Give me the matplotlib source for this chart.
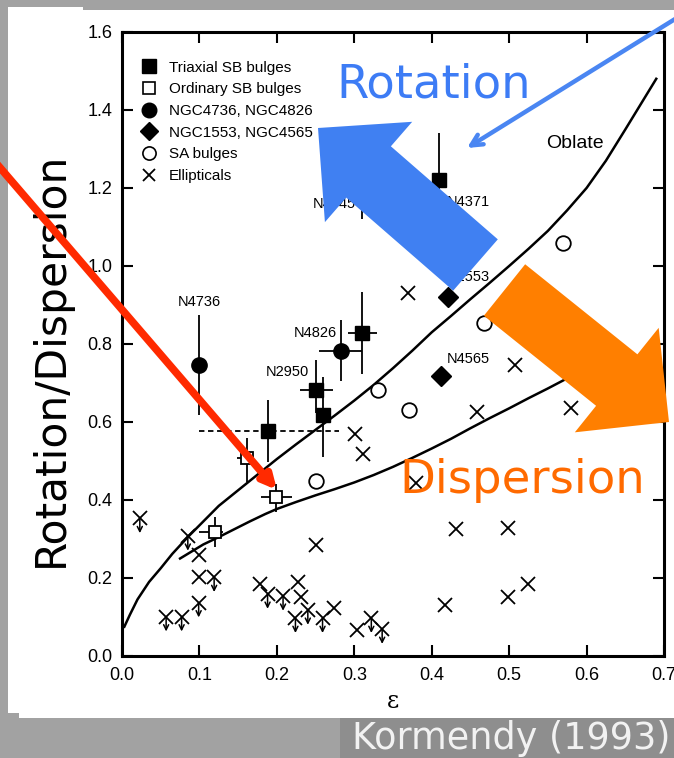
import matplotlib
matplotlib.use('Agg')
import matplotlib.pyplot as plt
from matplotlib.lines import Line2D
from matplotlib.patches import Rectangle, Polygon, FancyArrowPatch
import numpy as np

W, H = 674, 758

# ---------------- data ----------------
# Triaxial SB bulges (filled squares)
tri_x = [0.41, 0.31, 0.31, 0.25, 0.259, 0.189]
tri_y = [1.22, 1.18, 0.828, 0.682, 0.618, 0.577]
tri_ylo = [0.05, 0.06, 0.105, 0.06, 0.108, 0.08]
tri_yhi = [0.12, 0.05, 0.105, 0.077, 0.097, 0.08]
tri_xlo = [0.0, 0.0, 0.018, 0.02, 0.0, 0.0]
tri_xhi = [0.0, 0.0, 0.019, 0.022, 0.0, 0.0]
# dashed epsilon range of the eps=0.19 bulge
dash_x = [0.189]
dash_y = [0.577]
dash_xlo = [0.089]
dash_xhi = [0.091]

# Ordinary SB bulges (open squares)
osb_x = [0.120, 0.161, 0.199]
osb_y = [0.318, 0.508, 0.408]
osb_ylo = [0.038, 0.062, 0.038]
osb_yhi = [0.038, 0.052, 0.032]
osb_xlo = [0.02, 0.013, 0.019]
osb_xhi = [0.01, 0.008, 0.021]

# NGC4736, NGC4826 (filled circles)
ngc_c_x = [0.100, 0.283]
ngc_c_y = [0.746, 0.782]
ngc_c_ylo = [0.128, 0.077]
ngc_c_yhi = [0.128, 0.080]
ngc_c_xlo = [0.0, 0.029]
ngc_c_xhi = [0.0, 0.027]

# NGC1553, NGC4565 (filled diamonds)
ngc_d_x = [0.421, 0.412]
ngc_d_y = [0.921, 0.718]

# SA bulges (open circles)
sa_x = [0.570, 0.468, 0.331, 0.371, 0.250]
sa_y = [1.058, 0.853, 0.682, 0.631, 0.449]

# Ellipticals (crosses)
ell_x = [0.369, 0.508, 0.458, 0.301, 0.311, 0.380, 0.580, 0.431, 0.499, 0.524,
         0.498, 0.417, 0.304, 0.099, 0.099, 0.250, 0.178, 0.227, 0.231, 0.274]
ell_y = [0.931, 0.747, 0.626, 0.569, 0.518, 0.443, 0.636, 0.325, 0.328, 0.185,
         0.152, 0.131, 0.067, 0.259, 0.203, 0.285, 0.185, 0.191, 0.152, 0.122]
# Ellipticals, upper limits
ellu_x = [0.023, 0.085, 0.119, 0.099, 0.057, 0.077, 0.188, 0.208, 0.240, 0.224,
          0.259, 0.322, 0.336]
ellu_y = [0.353, 0.308, 0.202, 0.137, 0.101, 0.101, 0.159, 0.154, 0.118, 0.097,
          0.097, 0.097, 0.069]
lim_len = 0.038

# Oblate isotropic rotator line
obl_eps = [0.003, 0.01, 0.02, 0.035, 0.05, 0.065, 0.085, 0.105, 0.125, 0.15,
           0.175, 0.2, 0.225, 0.25, 0.275, 0.3, 0.325, 0.35, 0.375, 0.4,
           0.425, 0.45, 0.475, 0.5, 0.525, 0.55, 0.575, 0.6, 0.625, 0.65,
           0.67, 0.69]
obl_v = [0.075, 0.105, 0.145, 0.19, 0.225, 0.262, 0.305, 0.345, 0.385, 0.425,
         0.465, 0.505, 0.543, 0.58, 0.617, 0.655, 0.695, 0.738, 0.783, 0.83,
         0.872, 0.915, 0.957, 1.0, 1.044, 1.09, 1.143, 1.2, 1.27, 1.35,
         1.415, 1.48]
# lower model line
low_eps = [0.075, 0.09, 0.105, 0.126, 0.145, 0.165, 0.185, 0.2, 0.225, 0.25,
           0.275, 0.3, 0.325, 0.35, 0.375, 0.4, 0.425, 0.45, 0.475, 0.5,
           0.525, 0.55, 0.575, 0.6, 0.62]
low_v = [0.25, 0.268, 0.286, 0.306, 0.325, 0.345, 0.364, 0.377, 0.395, 0.412,
         0.428, 0.445, 0.464, 0.485, 0.508, 0.532, 0.557, 0.584, 0.61, 0.635,
         0.661, 0.686, 0.712, 0.74, 0.765]

# point labels
lab_text = ['N4736', 'N4826', 'N2950', 'N4371', 'N4945', 'N1553', 'N4565']
lab_x = [0.100, 0.278, 0.242, 0.420, 0.247, 0.475, 0.420]
lab_y = [0.908, 0.828, 0.728, 1.164, 1.160, 0.972, 0.762]
lab_ha = ['center', 'right', 'right', 'left', 'left', 'right', 'left']

legend_labels = ['Triaxial SB bulges', 'Ordinary SB bulges', 'NGC4736, NGC4826',
                 'NGC1553, NGC4565', 'SA bulges', 'Ellipticals']

xticks = [0.0, 0.1, 0.2, 0.3, 0.4, 0.5, 0.6, 0.7]
yticks = [0.0, 0.2, 0.4, 0.6, 0.8, 1.0, 1.2, 1.4, 1.6]

# ---------------- figure ----------------
fig = plt.figure(figsize=(W / 100, H / 100), dpi=100)
fig.patch.set_facecolor('#a2a2a2')


def fx(px):
    return px / W


def fy(py):
    return 1 - py / H


def frect(x0, y0, x1, y1, color, z):
    fig.add_artist(Rectangle((fx(x0), fy(y1)), fx(x1) - fx(x0), fy(y0) - fy(y1),
                             transform=fig.transFigure, facecolor=color,
                             edgecolor='none', zorder=z))


frect(340, 718, 674, 758, '#8e8e8e', -3)
frect(19, 10, 674, 718, 'white', -2)
frect(8, 7, 83, 713, 'white', -2)

ax = fig.add_axes([fx(122), fy(656), fx(664) - fx(122), fy(32) - fy(656)])
ax.set_xlim(0, 0.7)
ax.set_ylim(0, 1.6)
ax.set_facecolor('white')
for s in ax.spines.values():
    s.set_linewidth(2.2)
ax.set_xticks(xticks)
ax.set_xticklabels(['%.1f' % v for v in xticks])
ax.set_yticks(yticks)
ax.set_yticklabels(['%.1f' % v for v in yticks])
ax.tick_params(direction='in', length=8, width=1.5, top=True, right=True,
               labelsize=13, labelfontfamily='Liberation Sans', colors='black')
ax.tick_params(axis='x', pad=8)
ax.tick_params(axis='y', pad=7)
ax.set_xlabel('ε', fontsize=17, family='DejaVu Serif', labelpad=4)

# model lines
ax.plot(obl_eps, obl_v, color='black', lw=1.8, zorder=2, solid_joinstyle='round')
ax.plot(low_eps, low_v, color='black', lw=1.8, zorder=2, solid_joinstyle='round')
ax.text(0.548, 1.315, 'Oblate', fontsize=14, family='Liberation Sans',
        va='center', ha='left')

eb = dict(ecolor='black', elinewidth=1.3, capsize=0, zorder=3)
ax.errorbar(tri_x, tri_y, yerr=[tri_ylo, tri_yhi], xerr=[tri_xlo, tri_xhi],
            fmt='s', ms=9.5, mfc='black', mec='black', **eb)
c = ax.errorbar(dash_x, dash_y, xerr=[dash_xlo, dash_xhi], fmt='none', **eb)
for lc in c[2]:
    lc.set_linestyle((0, (3, 2)))
ax.errorbar(osb_x, osb_y, yerr=[osb_ylo, osb_yhi], xerr=[osb_xlo, osb_xhi],
            fmt='s', ms=8.6, mfc='white', mec='black', mew=1.3, **eb)
ax.errorbar(ngc_c_x, ngc_c_y, yerr=[ngc_c_ylo, ngc_c_yhi],
            xerr=[ngc_c_xlo, ngc_c_xhi], fmt='o', ms=11, mfc='black',
            mec='black', **eb)
ax.plot(ngc_d_x, ngc_d_y, 'D', ms=10.5, color='black', ls='none', zorder=3)
ax.plot(sa_x, sa_y, 'o', ms=10.5, mfc='white', mec='black', mew=1.3,
        ls='none', zorder=3)
ax.plot(ell_x, ell_y, 'x', ms=9.4, color='black', mew=1.3, ls='none', zorder=3)
ax.plot(ellu_x, ellu_y, 'x', ms=9.4, color='black', mew=1.3, ls='none', zorder=3)
for xv, yv in zip(ellu_x, ellu_y):
    ax.annotate('', xy=(xv, yv - lim_len), xytext=(xv, yv),
                arrowprops=dict(arrowstyle='->', lw=1.1, color='black',
                                shrinkA=0, shrinkB=0, mutation_scale=9),
                zorder=3)

for t, xv, yv, ha in zip(lab_text, lab_x, lab_y, lab_ha):
    ax.text(xv, yv, t, fontsize=10.5, family='Liberation Sans', ha=ha,
            va='center', zorder=4)

handles = [
    Line2D([], [], marker='s', ls='none', color='black', ms=9.5),
    Line2D([], [], marker='s', ls='none', mfc='white', mec='black', ms=9, mew=1.2),
    Line2D([], [], marker='o', ls='none', color='black', ms=10.5),
    Line2D([], [], marker='D', ls='none', color='black', ms=9.5),
    Line2D([], [], marker='o', ls='none', mfc='white', mec='black', ms=9.5, mew=1.2),
    Line2D([], [], marker='x', ls='none', color='black', ms=9, mew=1.3),
]
ax.legend(handles, legend_labels, loc='upper left', bbox_to_anchor=(0.036, 0.954),
          frameon=False, borderpad=0, borderaxespad=0, handlelength=1.0,
          handletextpad=0.8, labelspacing=0.5,
          prop={'family': 'Liberation Sans', 'size': 11})


# ---------------- slide overlays ----------------
def block_arrow(tail, tip, w, hw, hl):
    t = np.array(tail, float)
    p = np.array(tip, float)
    d = p - t
    L = np.hypot(*d)
    u = d / L
    n = np.array([-u[1], u[0]])
    b = t + u * (L - hl)
    pts = [t + n * w / 2, b + n * w / 2, b + n * hw / 2, p,
           b - n * hw / 2, b - n * w / 2, t - n * w / 2]
    return [(fx(q[0]), fy(q[1])) for q in pts]


fig.add_artist(Polygon(block_arrow((475.5, 265), (318, 128), 68, 133, 67),
                       closed=True, transform=fig.transFigure,
                       facecolor='#4080f2', edgecolor='none', zorder=5))
fig.add_artist(Polygon(block_arrow((504.5, 290), (669, 422), 66, 134, 67),
                       closed=True, transform=fig.transFigure,
                       facecolor='#ff7f00', edgecolor='none', zorder=5))

fig.add_artist(FancyArrowPatch((fx(688), fy(11)), (fx(467), fy(148)),
                               transform=fig.transFigure, arrowstyle='->',
                               mutation_scale=20, shrinkA=0, shrinkB=0,
                               color='#4a86f2', lw=3.2, zorder=6,
                               capstyle='round', joinstyle='round'))
fig.add_artist(FancyArrowPatch((fx(-16), fy(149)), (fx(277), fy(490)),
                               transform=fig.transFigure, arrowstyle='->',
                               mutation_scale=20, shrinkA=0, shrinkB=0,
                               color='#ff2a00', lw=5.5, zorder=6,
                               capstyle='round', joinstyle='round'))

fig.text(fx(336), fy(97), 'Rotation', fontsize=33.5, color='#3d7cf5',
         family='DejaVu Sans', ha='left', va='baseline', zorder=7)
fig.text(fx(399), fy(493), 'Dispersion', fontsize=33.5, color='#ff6a00',
         family='DejaVu Sans', ha='left', va='baseline', zorder=7)
fig.text(fx(63), fy(359), 'Rotation/Dispersion', fontsize=30.5, color='black',
         family='DejaVu Sans', rotation=90, rotation_mode='anchor',
         ha='center', va='baseline', zorder=4)
fig.text(fx(352), fy(749), 'Kormendy (1993)', fontsize=26.3, color='#f2f2f2',
         family='DejaVu Sans', ha='left', va='baseline', zorder=7)

fig.savefig('out.png', dpi=100)
